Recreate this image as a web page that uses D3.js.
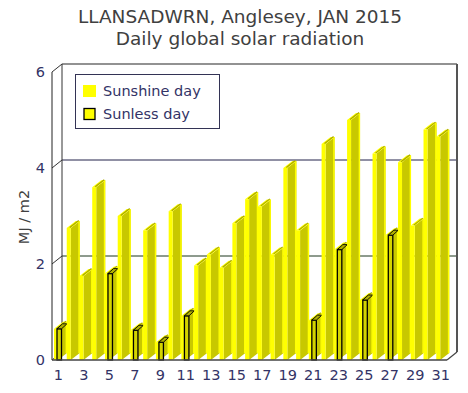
<!DOCTYPE html>
<html>
<head>
<meta charset="utf-8">
<script src="https://cdn.jsdelivr.net/npm/d3@7"></script>
<style>
  body { margin: 0; background: #fff; }
  svg { display: block; font-family: "DejaVu Sans", Verdana, sans-serif; }
</style>
</head>
<body>
<svg id="chart" width="468" height="393"></svg>
<script>
'use strict';

// January 2015, one value per day (MJ / m2)
var days = [1, 2, 3, 4, 5, 6, 7, 8, 9, 10, 11, 12, 13, 14, 15, 16,
            17, 18, 19, 20, 21, 22, 23, 24, 25, 26, 27, 28, 29, 30, 31];
var radiation = [0.65, 2.75, 1.75, 3.6, 1.8, 3.0, 0.62, 2.7, 0.37, 3.1, 0.92,
                 1.97, 2.2, 1.92, 2.85, 3.35, 3.2, 2.2, 4.0, 2.7, 0.83, 4.5,
                 2.3, 5.0, 1.25, 4.3, 2.6, 4.12, 2.8, 4.8, 4.65];
var sunlessDays = [1, 5, 7, 9, 11, 21, 23, 25, 27];
var yTicks = [0, 2, 4, 6];
var xTicks = [1, 3, 5, 7, 9, 11, 13, 15, 17, 19, 21, 23, 25, 27, 29, 31];
var titleLines = ["LLANSADWRN, Anglesey, JAN 2015", "Daily global solar radiation"];
var legendLabels = ["Sunshine day", "Sunless day"];

var colors = {
    front: "#ffff00",
    side: "#c8c800",
    topLine: "#a8a800",
    text: "#404040",
    tick: "#333366",
    frame: "#6e6e6e"
};

var plotLeft = 52, plotRight = 447, plotBase = 360, plotTop = 72;
var wallDx = 10, wallDy = -8;      // depth of the back wall
var fw = 4, bdx = 9, bdy = -7;     // bar front width and bar depth

var svg = d3.select("#chart");

var x = d3.scaleBand().domain(days).range([plotLeft, plotRight]);
var y = d3.scaleLinear().domain([0, 6]).range([plotBase, plotTop]);

// back wall
svg.append("rect")
    .attr("x", plotLeft + wallDx).attr("y", y(6) + wallDy)
    .attr("width", plotRight - plotLeft).attr("height", plotBase - y(6))
    .attr("fill", "#fff");

// gridlines on the wall
svg.selectAll(".grid")
    .data([2, 4])
    .enter().append("line")
    .attr("class", "grid")
    .attr("x1", plotLeft + wallDx).attr("x2", plotRight + wallDx)
    .attr("y1", d => y(d) + wallDy).attr("y2", d => y(d) + wallDy)
    .attr("stroke", d => d === 4 ? "#22224a" : "#1c361c")
    .attr("stroke-width", 1);

// wall frame
svg.append("line")
    .attr("x1", plotLeft + wallDx).attr("x2", plotRight + wallDx)
    .attr("y1", y(6) + wallDy).attr("y2", y(6) + wallDy)
    .attr("stroke", colors.frame).attr("stroke-width", 1.5);
svg.append("line")
    .attr("x1", plotRight + wallDx).attr("x2", plotRight + wallDx)
    .attr("y1", y(6) + wallDy).attr("y2", plotBase + wallDy)
    .attr("stroke", "#555").attr("stroke-width", 2);
svg.append("line")
    .attr("x1", plotLeft + wallDx).attr("x2", plotLeft + wallDx)
    .attr("y1", y(6) + wallDy).attr("y2", plotBase + wallDy)
    .attr("stroke", "#333").attr("stroke-width", 1);

// tick diagonals from the front axis to the wall
svg.selectAll(".diag")
    .data(yTicks)
    .enter().append("line")
    .attr("class", "diag")
    .attr("x1", plotLeft).attr("y1", d => y(d))
    .attr("x2", plotLeft + wallDx).attr("y2", d => y(d) + wallDy)
    .attr("stroke", "#333").attr("stroke-width", 1);

// floor edge on the right
svg.append("line")
    .attr("x1", plotRight).attr("y1", plotBase)
    .attr("x2", plotRight + wallDx).attr("y2", plotBase + wallDy)
    .attr("stroke", "#444").attr("stroke-width", 1.2);

// bars
var bars = svg.selectAll(".bar")
    .data(days)
    .enter().append("g")
    .attr("class", "bar");

bars.each(function(d, i) {
    var g = d3.select(this);
    var x0 = x(d) + 2;
    var yT = y(radiation[i]);

    g.append("polygon")
        .attr("points", [[x0 + fw, yT], [x0 + fw + bdx, yT + bdy],
                         [x0 + fw + bdx, plotBase + bdy], [x0 + fw, plotBase]].join(" "))
        .attr("fill", colors.side);
    g.append("line")
        .attr("x1", x0 + fw + bdx - 0.7).attr("x2", x0 + fw + bdx - 0.7)
        .attr("y1", yT + bdy).attr("y2", plotBase + bdy)
        .attr("stroke", colors.front).attr("stroke-width", 1.4);
    g.append("rect")
        .attr("x", x0).attr("y", yT)
        .attr("width", fw).attr("height", plotBase - yT)
        .attr("fill", colors.front);
    g.append("polygon")
        .attr("points", [[x0, yT], [x0 + fw, yT], [x0 + fw + bdx, yT + bdy],
                         [x0 + bdx, yT + bdy]].join(" "))
        .attr("fill", colors.front);
    g.append("line")
        .attr("x1", x0 + fw - 1).attr("y1", yT - 0.5)
        .attr("x2", x0 + fw - 1 + bdx).attr("y2", yT + bdy - 0.5)
        .attr("stroke", colors.topLine).attr("stroke-width", 1.2);

    if (sunlessDays.indexOf(d) >= 0) {
        var sx = x0 + 3;
        g.append("rect")
            .attr("x", sx).attr("y", yT)
            .attr("width", 4.5).attr("height", plotBase - yT)
            .attr("fill", "#d4d400")
            .attr("stroke", "#000").attr("stroke-width", 1.3);
        g.append("polygon")
            .attr("points", [[sx, yT], [sx + 4.5, yT], [sx + 10, yT - 5],
                             [sx + 5.5, yT - 5]].join(" "))
            .attr("fill", "#b0b000")
            .attr("stroke", "#000").attr("stroke-width", 0.9);
    }
});

// front axis lines
svg.append("line")
    .attr("x1", plotLeft).attr("x2", plotLeft)
    .attr("y1", y(6)).attr("y2", plotBase)
    .attr("stroke", "#222").attr("stroke-width", 1);
svg.append("line")
    .attr("x1", plotLeft).attr("x2", plotRight)
    .attr("y1", plotBase).attr("y2", plotBase)
    .attr("stroke", "#444").attr("stroke-width", 1.5);

// y axis labels
var yAxis = d3.axisLeft(y).tickValues(yTicks).tickFormat(d3.format("d"))
    .tickSize(0).tickPadding(7);
svg.append("g")
    .attr("transform", "translate(" + plotLeft + ",0)")
    .call(yAxis)
    .call(g => g.select(".domain").remove())
    .selectAll("text")
    .attr("fill", colors.tick)
    .style("font-size", "14.5px")
    .style("font-family", "DejaVu Sans, Verdana, sans-serif");

// x axis labels
var xAxis = d3.axisBottom(x).tickValues(xTicks).tickSize(0).tickPadding(10);
svg.append("g")
    .attr("transform", "translate(0," + plotBase + ")")
    .call(xAxis)
    .call(g => g.select(".domain").remove())
    .selectAll("text")
    .attr("fill", colors.tick)
    .style("font-size", "14.5px")
    .style("font-family", "DejaVu Sans, Verdana, sans-serif");

// y title
svg.append("text")
    .attr("transform", "translate(29,217) rotate(-90)")
    .attr("text-anchor", "middle")
    .attr("fill", colors.text)
    .style("font-size", "14.5px")
    .text("MJ / m2");

// titles
svg.selectAll(".title")
    .data(titleLines)
    .enter().append("text")
    .attr("class", "title")
    .attr("x", 240)
    .attr("y", (d, i) => i === 0 ? 22.5 : 45)
    .attr("text-anchor", "middle")
    .attr("fill", colors.text)
    .style("font-size", "18.5px")
    .text(d => d);

// legend
var legend = svg.append("g").attr("transform", "translate(75,74)");
legend.append("rect")
    .attr("x", 0.5).attr("y", 0.5)
    .attr("width", 144).attr("height", 54)
    .attr("fill", "#fff")
    .attr("stroke", "#333355").attr("stroke-width", 1);

legend.selectAll(".swatch")
    .data(legendLabels)
    .enter().append("rect")
    .attr("class", "swatch")
    .attr("x", (d, i) => i === 0 ? 8 : 9)
    .attr("y", (d, i) => i === 0 ? 11 : 34.5)
    .attr("width", (d, i) => i === 0 ? 13 : 11)
    .attr("height", (d, i) => i === 0 ? 12 : 11)
    .attr("fill", colors.front)
    .attr("stroke", (d, i) => i === 0 ? "none" : "#000")
    .attr("stroke-width", 1.3);

legend.selectAll(".label")
    .data(legendLabels)
    .enter().append("text")
    .attr("class", "label")
    .attr("x", 28)
    .attr("y", (d, i) => i === 0 ? 22 : 45)
    .attr("fill", colors.tick)
    .style("font-size", "14.5px")
    .text(d => d);
</script>
</body>
</html>
